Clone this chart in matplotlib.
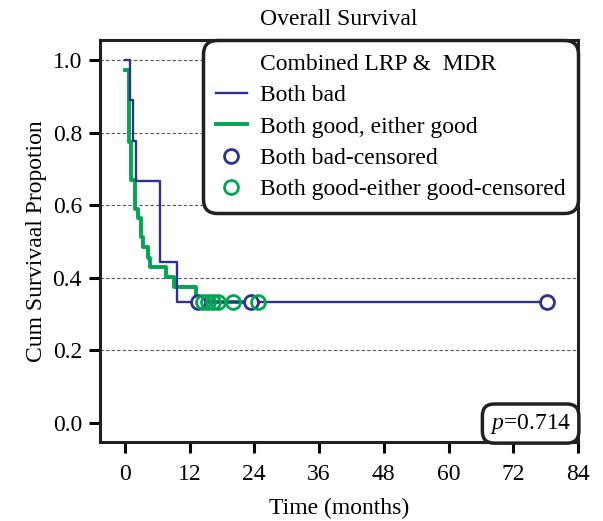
import matplotlib
matplotlib.use("Agg")
import matplotlib.pyplot as plt
from matplotlib.lines import Line2D

plt.rcParams['font.family'] = ['Liberation Serif', 'DejaVu Serif']
plt.rcParams['mathtext.fontset'] = 'custom'
plt.rcParams['mathtext.it'] = 'Liberation Serif:italic'
plt.rcParams['mathtext.rm'] = 'Liberation Serif'

# Both bad: step times and survival after each step
bad_times = [0, 0.9, 1.5, 2.1, 6.6, 9.6, 78.3]
bad_surv = [1.0, 0.889, 0.778, 0.667, 0.444, 0.333, 0.333]
bad_cens_t = [13.5, 23.4, 78.3]
bad_cens_s = [0.333, 0.333, 0.333]

# Both good / either good
good_times = [0, 0.75, 1.2, 1.9, 2.5, 3.0, 3.4, 4.3, 4.6, 7.7, 9.2, 13.2, 24.6]
good_surv = [0.972, 0.775, 0.669, 0.589, 0.565, 0.513, 0.484, 0.454, 0.431, 0.403, 0.375, 0.334, 0.334]
good_cens_t = [14.4, 15.4, 16.3, 17.2, 20.0, 24.6]
good_cens_s = [0.334, 0.334, 0.334, 0.334, 0.334, 0.334]

x_ticks = [0, 12, 24, 36, 48, 60, 72, 84]
y_ticks = [0.0, 0.2, 0.4, 0.6, 0.8, 1.0]
p_text = "$p$=0.714"

blue = '#2e3192'
green = '#00a651'
FS = 17

fig = plt.figure(figsize=(6.03, 5.21), dpi=100)
ax = fig.add_axes([100/603, 1-442/521, 478/603, 402/521])

for y in [0.2, 0.4, 0.6, 0.8, 1.0]:
    ax.axhline(y, color='#555555', lw=0.8, ls=(0, (3, 2)), zorder=0)

ax.step(bad_times, bad_surv, where='post', color=blue, lw=1.7, zorder=3)
ax.step(good_times, good_surv, where='post', color=green, lw=2.8, zorder=2)
ax.plot(bad_cens_t, bad_cens_s, 'o', mfc='white', mec=blue, mew=2, ms=10, ls='none', zorder=4)
ax.plot(good_cens_t, good_cens_s, 'o', mfc='none', mec=green, mew=2, ms=10, ls='none', zorder=5)

ax.set_xlim(-4.6, 84)
ax.set_ylim(-0.052, 1.055)
ax.set_xticks(x_ticks)
ax.set_yticks(y_ticks)
ax.set_yticklabels([f"{v:.1f}" for v in y_ticks])
ax.tick_params(axis='x', direction='out', length=8, width=2.2, labelsize=FS, pad=8)
ax.tick_params(axis='y', direction='out', length=8, width=2.2, labelsize=FS, pad=5)
for s in ax.spines.values():
    s.set_linewidth(2.2)
    s.set_color('#231f20')

ax.set_title("Overall Survival", fontsize=FS, pad=11)
ax.set_xlabel("Time (months)", fontsize=FS, labelpad=9)
ax.set_ylabel("Cum Survivaal Propotion", fontsize=FS, labelpad=4)

handles = [
    Line2D([], [], color='none'),
    Line2D([], [], color=blue, lw=1.7),
    Line2D([], [], color=green, lw=2.8),
    Line2D([], [], marker='o', mfc='white', mec=blue, mew=2, ms=10, ls='none'),
    Line2D([], [], marker='o', mfc='white', mec=green, mew=2, ms=10, ls='none'),
]
labels = ["Combined LRP &  MDR", "Both bad", "Both good, either good",
          "Both bad-censored", "Both good-either good-censored"]
leg = ax.legend(handles, labels, loc='upper right', bbox_to_anchor=(0.988, 0.985),
                borderaxespad=0, fontsize=FS, frameon=True, fancybox=True,
                handlelength=1.3, handletextpad=0.55, labelspacing=0.42,
                borderpad=0.3, framealpha=1)
fr = leg.get_frame()
fr.set_edgecolor('#231f20')
fr.set_linewidth(2.5)
fr.set_boxstyle('round,pad=0.25,rounding_size=0.6')

ax.text(0.986, 0.016, p_text, transform=ax.transAxes, ha='right', va='bottom',
        fontsize=FS, zorder=10,
        bbox=dict(boxstyle='round,pad=0.32,rounding_size=0.5', fc='white', ec='#231f20', lw=2.5))

fig.savefig('out.png', dpi=100)
